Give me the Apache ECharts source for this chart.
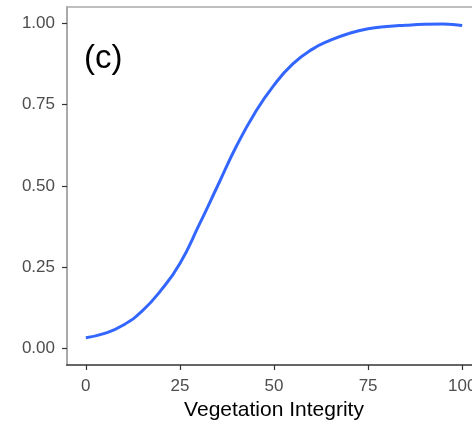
<!DOCTYPE html>
<html>
<head>
<meta charset="utf-8">
<script src="https://cdn.jsdelivr.net/npm/echarts@6/dist/echarts.min.js"></script>
<style>
  html, body { margin: 0; padding: 0; background: #fff; }
  #chart { width: 472px; height: 422px; }
</style>
</head>
<body>
<div id="chart"></div>
<script>
// Fitted response along the vegetation integrity gradient
const integrity = [0, 5, 10, 15, 20, 25, 30, 35, 40, 45, 50, 55, 60, 65, 70, 75, 80, 85, 90, 95, 100];
const response = [0.034, 0.047, 0.073, 0.116, 0.180, 0.262, 0.378, 0.500, 0.622, 0.726, 0.810, 0.875, 0.919, 0.948, 0.969, 0.983, 0.990, 0.994, 0.997, 0.998, 0.993];
const xTicks = [0, 25, 50, 75, 100];
const yTicks = [0, 0.25, 0.5, 0.75, 1];
const panelTag = '(c)';
const xTitle = 'Vegetation Integrity';

const FONT = '"Liberation Sans", Arial, sans-serif';
const chart = echarts.init(document.getElementById('chart'), null, { renderer: 'canvas' });

chart.setOption({
  animation: false,
  backgroundColor: '#ffffff',
  grid: { left: 67, top: 7, width: 414, bottom: 57, containLabel: false, outerBoundsMode: 'none' },
  xAxis: {
    type: 'value',
    min: -5,
    max: 105,
    name: xTitle,
    nameLocation: 'middle',
    nameGap: 35,
    nameTextStyle: { fontFamily: FONT, fontSize: 21, color: '#000' },
    axisLine: { show: true, onZero: false, lineStyle: { color: '#333', width: 1.7 } },
    axisTick: { show: true, customValues: xTicks, length: 5, lineStyle: { color: '#333', width: 1.2 } },
    axisLabel: {
      customValues: xTicks,
      margin: 13,
      fontFamily: FONT,
      fontSize: 17,
      color: '#4d4d4d',
      formatter: v => String(v)
    },
    splitLine: { show: false }
  },
  yAxis: {
    type: 'value',
    min: -0.05,
    max: 1.05,
    axisLine: { show: true, onZero: false, lineStyle: { color: '#aaaaaa', width: 2 } },
    axisTick: { show: true, customValues: yTicks, length: 5, lineStyle: { color: '#333', width: 1.2 } },
    axisLabel: {
      customValues: yTicks,
      margin: 12,
      fontFamily: FONT,
      fontSize: 17,
      color: '#4d4d4d',
      padding: [7, 0, 0, 0],
      formatter: v => v.toFixed(2)
    },
    splitLine: { show: false }
  },
  graphic: [
    {
      type: 'line',
      shape: { x1: 67, y1: 7, x2: 481, y2: 7 },
      style: { stroke: '#aaaaaa', lineWidth: 1.5 },
      silent: true
    },
    {
      type: 'text',
      left: 84,
      top: 42,
      style: { text: panelTag, font: '33px ' + FONT, fill: '#000' }
    }
  ],
  series: [{
    type: 'line',
    data: integrity.map((x, i) => [x, response[i]]),
    smooth: 0.5,
    showSymbol: false,
    lineStyle: { color: '#3366ff', width: 3 },
    itemStyle: { color: '#3366ff' }
  }]
});
</script>
</body>
</html>
